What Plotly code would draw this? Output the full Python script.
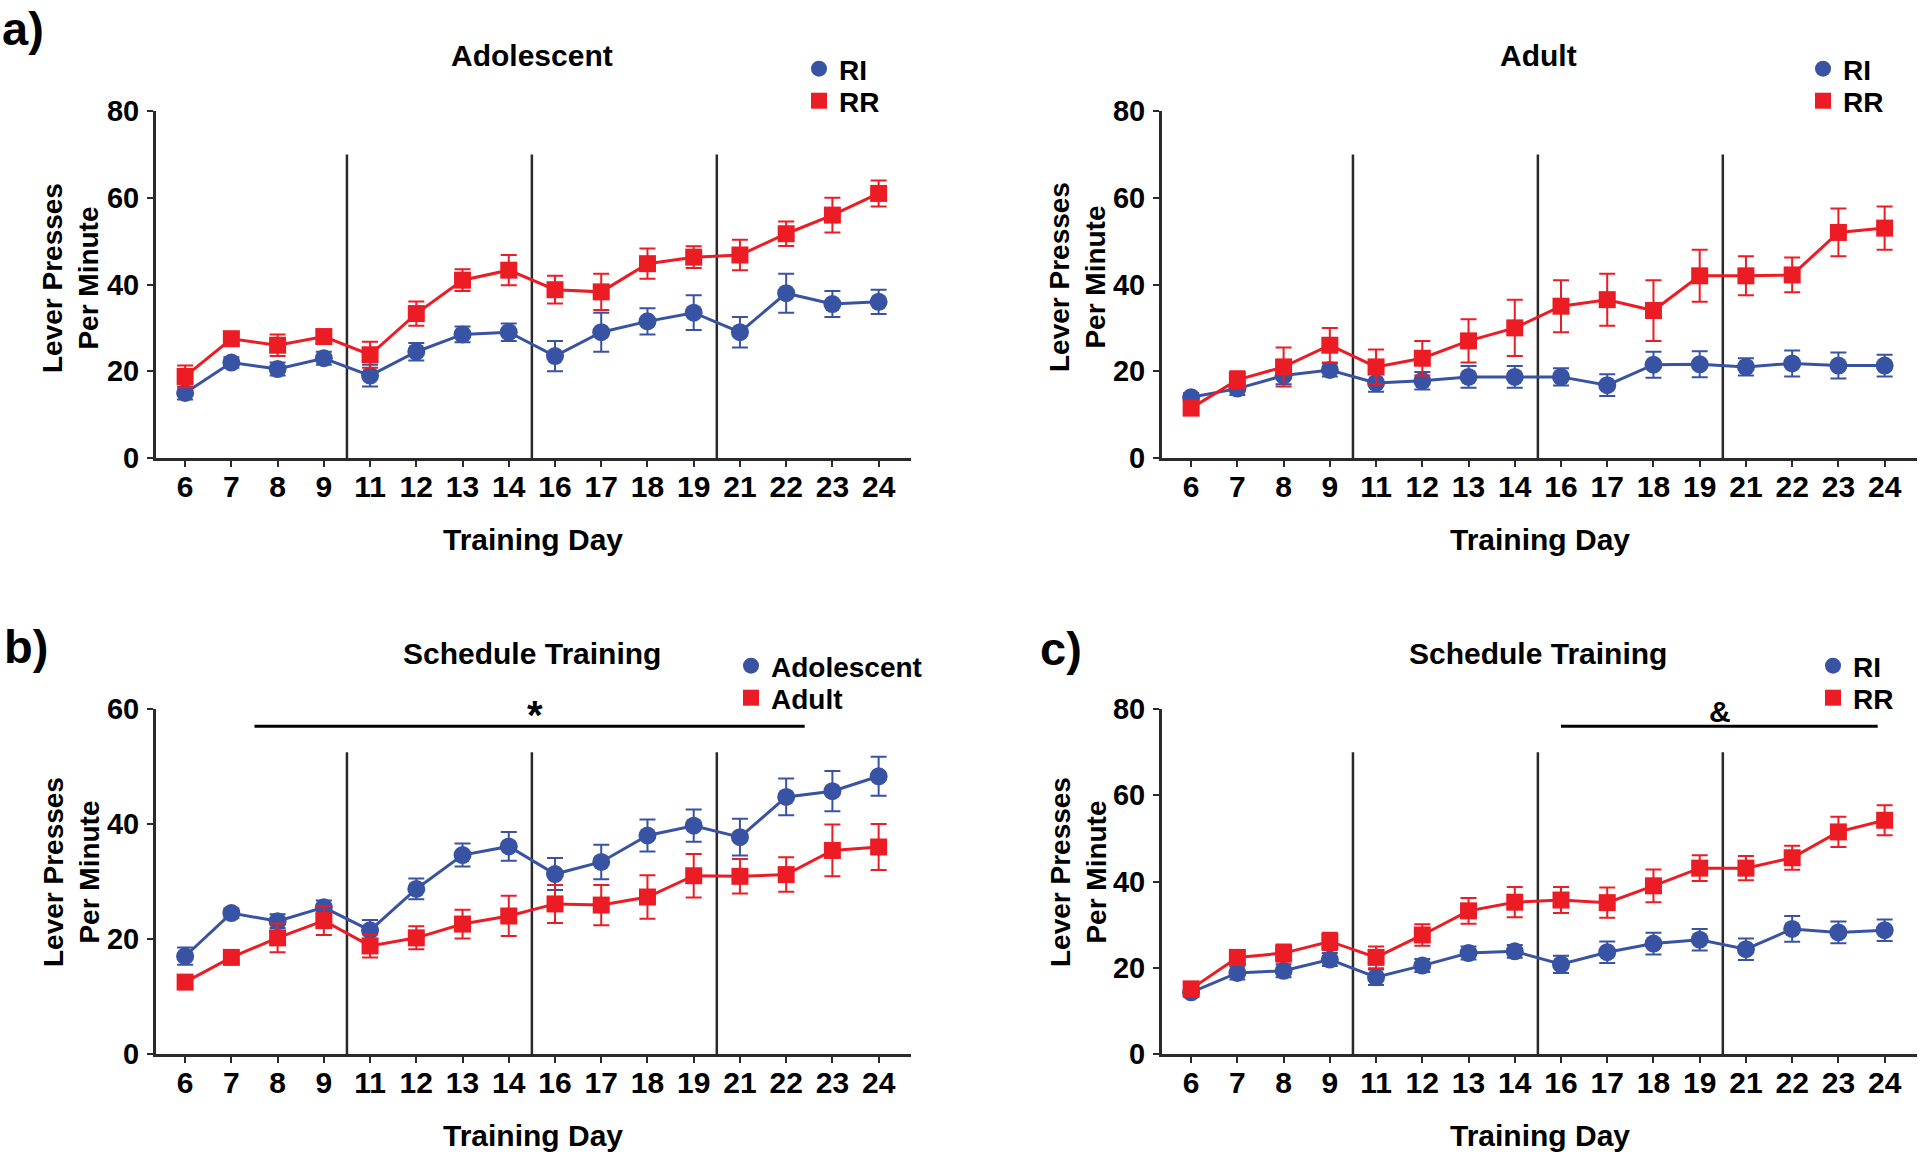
import plotly.graph_objects as go

# ---------------- data ----------------
days = ["6", "7", "8", "9", "11", "12", "13", "14", "16", "17", "18", "19", "21", "22", "23", "24"]

# a) Adolescent
adol_ri = [15, 22, 20.5, 23, 19, 24.5, 28.5, 29, 23.5, 29, 31.5, 33.5, 29, 38, 35.5, 36]
adol_ri_sem = [1.5, 1.2, 1.5, 1.5, 2.5, 2, 1.8, 2, 3.5, 4.5, 3, 4, 3.5, 4.5, 3, 2.8]
adol_rr = [18.8, 27.5, 26, 28, 23.8, 33.3, 41, 43.3, 38.8, 38.3, 44.8, 46.3, 46.8, 51.7, 56, 61]
adol_rr_sem = [2.5, 1.5, 2.5, 1.5, 3, 2.8, 2.5, 3.5, 3.2, 4.2, 3.5, 2.5, 3.5, 2.8, 4, 3]

# a) Adult
adult_ri = [14, 16, 19, 20.3, 17.3, 17.8, 18.7, 18.7, 18.7, 16.8, 21.5, 21.6, 21, 21.8, 21.3, 21.3]
adult_ri_sem = [1, 1.5, 2, 1.5, 2, 2, 2.5, 2.5, 2, 2.5, 3, 3, 2, 3, 3, 2.5]
adult_rr = [11.5, 18, 21, 26, 21, 23, 27, 30, 35, 36.5, 34, 42, 42, 42.2, 52, 53]
adult_rr_sem = [1.5, 2, 4.5, 4, 4, 4, 5, 6.5, 6, 6, 7, 6, 4.5, 4, 5.5, 5]

# b) Schedule training by age
age_adol = [17, 24.5, 23.1, 25.5, 21.5, 28.7, 34.6, 36.1, 31.3, 33.4, 38, 39.7, 37.7, 44.7, 45.7, 48.3]
age_adol_sem = [1.5, 0.8, 1.2, 1.2, 1.8, 1.8, 2, 2.5, 2.8, 3, 2.8, 2.8, 3.2, 3.2, 3.5, 3.4]
age_adult = [12.5, 16.8, 20.2, 23.2, 18.8, 20.2, 22.6, 24, 26.1, 25.9, 27.3, 31, 30.9, 31.2, 35.4, 36]
age_adult_sem = [1, 1, 2.5, 2.5, 2, 2, 2.5, 3.5, 3.3, 3.5, 3.8, 3.8, 3, 3, 4.5, 4]

# c) Schedule training by schedule
sch_ri = [14.3, 18.8, 19.3, 21.9, 17.8, 20.5, 23.4, 23.8, 20.8, 23.6, 25.6, 26.5, 24.3, 29, 28.2, 28.7]
sch_ri_sem = [1, 1.5, 1.5, 1.5, 1.8, 1.5, 1.5, 1.5, 2, 2.5, 2.5, 2.5, 2.5, 3, 2.5, 2.5]
sch_rr = [15.1, 22.4, 23.4, 26.1, 22.4, 27.6, 33.2, 35.2, 35.7, 35.1, 39, 43.1, 43.1, 45.5, 51.5, 54.2]
sch_rr_sem = [1, 1.5, 2, 2, 2.5, 2.5, 3, 3.5, 3, 3.5, 3.8, 3, 2.8, 2.8, 3.5, 3.5]

# phase boundaries (between days 9|11, 14|16, 19|21) and significance spans
phase_breaks = [3.5, 7.5, 11.5]
star_span = [1.5, 13.4]   # panel b
amp_span = [8, 14.85]     # panel c

# ---------------- styling ----------------
BLUE = "#3953A4"
RED = "#EC1C24"
AXC = "#2a2a2a"
FONT = "Arial"
W, H = 1920, 1154

def px(x):
    return x / W

def py(y):
    return 1 - y / H

fig = go.Figure()

# (axis suffix, series, ymax, separator top, legend item centres [(x, y), (x, y)])
panels = [
    ("", [("RI", adol_ri, adol_ri_sem, BLUE, "circle"), ("RR", adol_rr, adol_rr_sem, RED, "square")],
     80, 70, [(818, 69), (818, 101)]),
    ("2", [("RI", adult_ri, adult_ri_sem, BLUE, "circle"), ("RR", adult_rr, adult_rr_sem, RED, "square")],
     80, 70, [(1822, 69), (1822, 101)]),
    ("3", [("Adolescent", age_adol, age_adol_sem, BLUE, "circle"), ("Adult", age_adult, age_adult_sem, RED, "square")],
     60, 52.5, [(750, 666), (750, 698)]),
    ("4", [("RI", sch_ri, sch_ri_sem, BLUE, "circle"), ("RR", sch_rr, sch_rr_sem, RED, "square")],
     80, 70, [(1832, 666), (1832, 698)]),
]

legends = {}
leg_i = 0
for suf, series, ymax, btop, legpos in panels:
    for name, vals, sem, col, sym in series:
        fig.add_trace(go.Scatter(
            x=days, y=vals, mode="lines+markers", name=name,
            xaxis="x" + suf, yaxis="y" + suf,
            line=dict(color=col, width=3),
            marker=dict(color=col, size=18 if sym == "circle" else 17, symbol=sym),
            error_y=dict(type="data", array=sem, color=col, thickness=2, width=8),
            showlegend=False, cliponaxis=False,
        ))
    for (name, vals, sem, col, sym), (lx, ly) in zip(series, legpos):
        leg_i += 1
        lname = "legend" if leg_i == 1 else "legend%d" % leg_i
        legends[lname] = dict(x=px(lx - 19), y=py(ly), xanchor="left", yanchor="middle",
                              bgcolor="rgba(0,0,0,0)", borderwidth=0,
                              font=dict(family=FONT, size=28, color="black", weight="bold"))
        fig.add_trace(go.Scatter(
            x=[None], y=[None], mode="markers", name=name,
            xaxis="x" + suf, yaxis="y" + suf,
            marker=dict(color=col, size=18 if sym == "circle" else 17, symbol=sym),
            showlegend=True, legend=lname,
        ))
    for b in phase_breaks:
        fig.add_shape(type="line", xref="x" + suf, yref="y" + suf,
                      x0=b, x1=b, y0=0, y1=btop,
                      line=dict(color=AXC, width=2.5), layer="below")

# significance bars
fig.add_shape(type="line", xref="x3", yref="y3", x0=star_span[0], x1=star_span[1], y0=57, y1=57,
              line=dict(color="black", width=3))
fig.add_shape(type="line", xref="x4", yref="y4", x0=amp_span[0], x1=amp_span[1], y0=76, y1=76,
              line=dict(color="black", width=3))

xdom_l = [px(156), px(911)]
xdom_r = [px(1162), px(1917)]
ydom_t = [py(458), py(111)]
ydom_b = [py(1054), py(709)]

def xaxis(dom, anchor):
    return dict(domain=dom, anchor=anchor, type="category", range=[-0.63, 15.7],
                showline=True, linecolor=AXC, linewidth=3, ticks="outside",
                ticklen=6, tickwidth=2, tickcolor=AXC, showgrid=False, zeroline=False,
                tickfont=dict(family=FONT, size=30, color="black", weight="bold"),
                ticklabelstandoff=-6, automargin=False)

def yaxis(dom, anchor, ymax):
    return dict(domain=dom, anchor=anchor, range=[0, ymax], tickvals=list(range(0, ymax + 1, 20)),
                showline=True, linecolor=AXC, linewidth=3, ticks="outside",
                ticklen=6, tickwidth=2, tickcolor=AXC, showgrid=False, zeroline=False,
                tickfont=dict(family=FONT, size=29, color="black", weight="bold"),
                ticklabelstandoff=2, automargin=False)

annotations = []

def text(x, y, t, size=30, angle=0, xanchor="center", yanchor="middle"):
    annotations.append(dict(x=px(x), y=py(y), xref="paper", yref="paper", text=t,
                            showarrow=False, textangle=angle,
                            font=dict(family=FONT, size=size, color="black", weight="bold"),
                            xanchor=xanchor, yanchor=yanchor))

# panel letters
text(0, 0, "a)", size=47, xanchor="left", yanchor="top")
text(26, 646, "b)", size=47)
text(1061, 648, "c)", size=47)
# titles
text(532, 55, "Adolescent")
text(1538, 55, "Adult")
text(532, 653, "Schedule Training")
text(1538, 653, "Schedule Training")
# x titles
text(533, 539, "Training Day")
text(1540, 539, "Training Day")
text(533, 1154, "Training Day", yanchor="bottom")
text(1540, 1154, "Training Day", yanchor="bottom")
# y titles
for cx, cy in [(71, 278), (1078, 277), (71, 872), (1078, 872)]:
    text(cx, cy, "Lever Presses<br>Per Minute", size=28, angle=-90)

# significance symbols
annotations.append(dict(x=7.57, y=59.0, xref="x3", yref="y3", text="*", showarrow=False,
                        font=dict(family=FONT, size=40, color="black", weight="bold")))
annotations.append(dict(x=11.43, y=79.5, xref="x4", yref="y4", text="&", showarrow=False,
                        font=dict(family=FONT, size=30, color="black", weight="bold")))

fig.update_layout(
    width=W, height=H, margin=dict(l=0, r=0, t=0, b=0, pad=0),
    paper_bgcolor="white", plot_bgcolor="white",
    xaxis=xaxis(xdom_l, "y"), yaxis=yaxis(ydom_t, "x", 80),
    xaxis2=xaxis(xdom_r, "y2"), yaxis2=yaxis(ydom_t, "x2", 80),
    xaxis3=xaxis(xdom_l, "y3"), yaxis3=yaxis(ydom_b, "x3", 60),
    xaxis4=xaxis(xdom_r, "y4"), yaxis4=yaxis(ydom_b, "x4", 80),
    annotations=annotations,
    showlegend=True,
    **legends,
)

fig.write_html("out.html", config={"displayModeBar": False},
               post_script="document.body.style.margin='0';document.body.style.overflow='hidden';")
